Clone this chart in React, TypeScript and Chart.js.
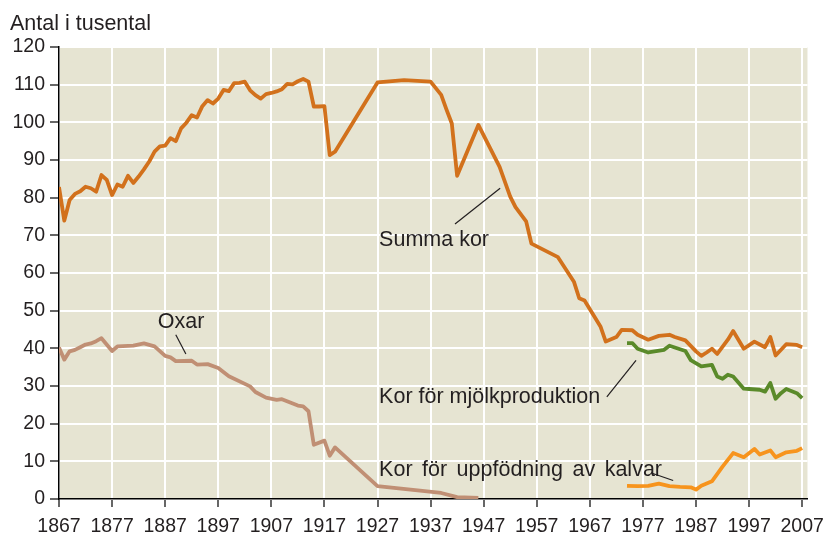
import React, { useEffect, useRef } from "react";
import { Chart, registerables } from "chart.js";

Chart.register(...registerables);

// ---- Data (thousands of animals) ----
const tickYears = [1867, 1877, 1887, 1897, 1907, 1917, 1927, 1937, 1947, 1957, 1967, 1977, 1987, 1997, 2007];

const summaKorYears = [
  1867, 1868, 1869, 1870, 1871, 1872, 1873, 1874, 1875, 1876, 1877, 1878, 1879, 1880, 1881, 1882, 1883, 1884, 1885,
  1886, 1887, 1888, 1889, 1890, 1891, 1892, 1893, 1894, 1895, 1896, 1897, 1898, 1899, 1900, 1901, 1902, 1903, 1904,
  1905, 1906, 1907, 1908, 1909, 1910, 1911, 1912, 1913, 1914, 1915, 1916, 1917, 1918, 1919, 1927, 1932, 1937, 1939,
  1940, 1941, 1942, 1946, 1950, 1952, 1953, 1955, 1956, 1961, 1964, 1965, 1966, 1969, 1970, 1972, 1973, 1975, 1976,
  1978, 1980, 1982, 1983, 1985, 1987, 1988, 1989, 1990, 1991, 1993, 1994, 1996, 1998, 2000, 2001, 2002, 2004, 2006,
  2007,
];
const summaKorValues = [
  82.8, 73.9, 79.4, 81.0, 81.7, 82.9, 82.5, 81.6, 86.0, 84.7, 80.7, 83.5, 82.9, 85.8, 83.9, 85.6, 87.5, 89.6, 92.2,
  93.6, 93.8, 95.8, 95.0, 98.4, 99.9, 101.9, 101.3, 104.3, 105.9, 105.0, 106.3, 108.6, 108.3, 110.4, 110.5, 110.8,
  108.5, 107.2, 106.3, 107.5, 107.8, 108.2, 108.8, 110.2, 110.1, 110.9, 111.5, 110.8, 104.2, 104.2, 104.3, 91.3, 92.2,
  110.6, 111.2, 110.8, 107.3, 103.4, 99.7, 85.8, 99.3, 88.2, 80.3, 77.5, 73.7, 67.8, 64.2, 57.7, 53.3, 52.7, 45.8,
  41.8, 43.0, 44.9, 44.8, 43.6, 42.3, 43.3, 43.6, 43.0, 42.1, 39.2, 38.0, 38.9, 39.9, 38.5, 42.3, 44.6, 39.9, 41.8,
  40.3, 43.0, 38.1, 41.1, 40.9, 40.3,
];

const oxarYears = [
  1867, 1868, 1869, 1870, 1871, 1872, 1873, 1874, 1875, 1877, 1878, 1881, 1883, 1885, 1887, 1888, 1889, 1892, 1893,
  1895, 1897, 1899, 1903, 1904, 1906, 1908, 1909, 1912, 1913, 1914, 1915, 1917, 1918, 1919, 1927, 1939, 1942, 1946,
];
const oxarValues = [
  40.2, 37.0, 39.2, 39.6, 40.3, 41.0, 41.3, 41.9, 42.7, 39.3, 40.5, 40.7, 41.3, 40.5, 38.0, 37.6, 36.6, 36.7, 35.7,
  35.8, 34.8, 32.6, 29.9, 28.4, 26.9, 26.3, 26.5, 24.8, 24.6, 23.3, 14.4, 15.5, 11.5, 13.7, 3.4, 1.6, 0.5, 0.3,
];

const mjolkYears = [
  1974, 1975, 1976, 1978, 1981, 1982, 1985, 1986, 1988, 1990, 1991, 1992, 1993, 1994, 1996, 1997, 1999, 2000, 2001,
  2002, 2003, 2004, 2006, 2007,
];
const mjolkValues = [
  41.4, 41.4, 39.9, 38.9, 39.6, 40.7, 39.3, 36.9, 35.2, 35.6, 32.5, 31.9, 33.0, 32.5, 29.3, 29.2, 29.0, 28.5, 30.8,
  26.6, 28.1, 29.2, 28.1, 26.8,
];

const kalvarYears = [
  1974, 1976, 1978, 1980, 1982, 1984, 1986, 1987, 1988, 1990, 1992, 1994, 1996, 1998, 1999, 2001, 2002, 2004, 2006,
  2007,
];
const kalvarValues = [
  3.5, 3.4, 3.5, 4.1, 3.4, 3.2, 3.1, 2.5, 3.5, 4.7, 8.6, 12.2, 11.1, 13.3, 11.8, 12.9, 11.1, 12.4, 12.8, 13.5,
];

// Annotation labels: text, anchor (year, value at baseline), leader line endpoints (year, value)
const labelTexts = ["Summa kor", "Oxar", "Kor för mjölkproduktion", "Kor för uppfödning av kalvar"];
const labelAnchors = [
  [1927.3, 67.2],
  [1885.6, 45.5],
  [1927.3, 25.5],
  [1927.3, 6.2],
];
const leaderLines = [
  [1941.6, 73.0, 1950.1, 82.5],
  [1889.0, 43.6, 1890.9, 38.5],
  [1970.2, 27.1, 1975.7, 36.8],
  [1978.6, 6.9, 1982.7, 4.9],
];
const labelWordSpacing = [0, 0, 0, 3.5];

const toPoints = (xs: number[], ys: number[]) => xs.map((x, i) => ({ x, y: ys[i] }));

const TEXT = "#231f20";
const FONT = "'Liberation Sans', Arial, Helvetica, sans-serif";

export default function App() {
  const ref = useRef<HTMLCanvasElement | null>(null);

  useEffect(() => {
    if (!ref.current) return;

    const bgPlugin = {
      id: "bg",
      beforeDraw(chart: any) {
        const { ctx, chartArea } = chart;
        ctx.save();
        ctx.fillStyle = "#e6e4d2";
        ctx.fillRect(chartArea.left, chartArea.top, chartArea.right - chartArea.left, chartArea.bottom - chartArea.top);
        ctx.restore();
      },
    };

    const annoPlugin = {
      id: "anno",
      afterDatasetsDraw(chart: any) {
        const { ctx, scales } = chart;
        const xs = scales.x;
        const ys = scales.y;
        ctx.save();
        ctx.fillStyle = TEXT;
        ctx.font = `21.5px ${FONT}`;
        ctx.textBaseline = "alphabetic";
        ctx.textAlign = "left";
        labelTexts.forEach((t, i) => {
          (ctx as any).wordSpacing = `${labelWordSpacing[i]}px`;
          ctx.fillText(t, xs.getPixelForValue(labelAnchors[i][0]), ys.getPixelForValue(labelAnchors[i][1]));
        });
        (ctx as any).wordSpacing = "0px";
        ctx.strokeStyle = TEXT;
        ctx.lineWidth = 1.2;
        leaderLines.forEach((l) => {
          ctx.beginPath();
          ctx.moveTo(xs.getPixelForValue(l[0]), ys.getPixelForValue(l[1]));
          ctx.lineTo(xs.getPixelForValue(l[2]), ys.getPixelForValue(l[3]));
          ctx.stroke();
        });
        // axis unit title
        ctx.font = `21.5px ${FONT}`;
        ctx.fillText("Antal i tusental", 10, 29.5);
        ctx.restore();
      },
    };

    const lineDs = (label: string, xs: number[], ys: number[], color: string) => ({
      label,
      data: toPoints(xs, ys),
      borderColor: color,
      backgroundColor: color,
      borderWidth: 3.8,
      pointRadius: 0,
      tension: 0,
      fill: false,
      borderJoinStyle: "round" as const,
    });

    const chart = new Chart(ref.current, {
      type: "line",
      data: {
        datasets: [
          lineDs("Oxar", oxarYears, oxarValues, "#c08f74"),
          lineDs("Summa kor", summaKorYears, summaKorValues, "#d2711c"),
          lineDs("Kor för mjölkproduktion", mjolkYears, mjolkValues, "#5a8a2a"),
          lineDs("Kor för uppfödning av kalvar", kalvarYears, kalvarValues, "#f7941d"),
        ],
      },
      options: {
        animation: false,
        responsive: false,
        devicePixelRatio: 1,
        layout: { padding: { top: 47, right: 20, left: 0, bottom: 0 } },
        plugins: { legend: { display: false }, tooltip: { enabled: false }, title: { display: false } },
        scales: {
          x: {
            type: "linear",
            min: 1867,
            max: 2008,
            afterBuildTicks: (scale: any) => {
              scale.ticks = tickYears.map((v) => ({ value: v }));
            },
            afterFit: (scale: any) => {
              scale.height = 38;
            },
            ticks: {
              autoSkip: false,
              maxRotation: 0,
              padding: 8,
              color: TEXT,
              font: { family: FONT, size: 19.5 },
              callback: (v: any) => String(v),
            },
            grid: { color: "#ffffff", lineWidth: 2, tickColor: "#000000", tickLength: 8, tickWidth: 1.2 },
            border: { color: "#000000", width: 1.5 },
          },
          y: {
            min: 0,
            max: 120,
            afterFit: (scale: any) => {
              scale.width = 59;
            },
            ticks: {
              stepSize: 10,
              padding: 5,
              color: TEXT,
              font: { family: FONT, size: 19.5 },
            },
            grid: { color: "#ffffff", lineWidth: 2, tickColor: "#000000", tickLength: 9, tickWidth: 1.2 },
            border: { color: "#000000", width: 1.5 },
          },
        },
      },
      plugins: [bgPlugin, annoPlugin],
    });

    return () => chart.destroy();
  }, []);

  return (
    <div style={{ position: "fixed", left: 0, top: 0, width: 832, height: 537, background: "#fff" }}>
      <canvas ref={ref} width={832} height={537} style={{ display: "block", width: 832, height: 537 }} />
    </div>
  );
}
